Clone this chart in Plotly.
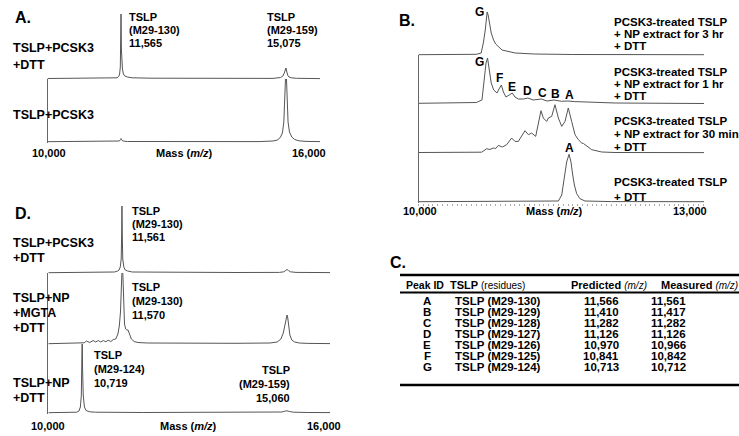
import plotly.graph_objects as go

W, H = 739, 436
FONT = "Liberation Sans, Arial, sans-serif"
LINE = "#555555"

# ---------------- data (intensities in arbitrary units) ----------------
# Panel A
a1_mass = [10000, 10500, 11000, 11400, 11480, 11515, 11535, 11550, 11557, 11565, 11573, 11580, 11595, 11615, 11645, 11700, 11800, 12200, 13000, 14000, 14800, 14960, 15010, 15040, 15060, 15075, 15090, 15110, 15140, 15190, 15300, 15500, 15800]
a1_int = [0.5, 0.5, 0.6, 0.8, 1.2, 2.5, 5, 12, 30, 65, 30, 20, 10, 5, 3, 2, 1.2, 0.8, 0.6, 0.5, 0.6, 1.5, 3, 6, 10, 11, 8, 4, 2, 1.2, 0.7, 0.5, 0.4]
a2_mass = [10000, 11000, 11450, 11530, 11555, 11565, 11575, 11600, 11700, 12500, 13500, 14500, 14800, 14900, 14960, 15000, 15030, 15050, 15065, 15075, 15085, 15100, 15120, 15150, 15200, 15260, 15350, 15500, 15800]
a2_int = [0.3, 0.3, 0.5, 1, 2.5, 3.5, 2.5, 1, 0.5, 0.3, 0.3, 0.4, 1, 2, 5, 9, 20, 40, 65, 75, 65, 40, 20, 10, 5, 2.5, 1.2, 0.6, 0.4]

# Panel B
b1_mass = [10000, 10500, 10600, 10650, 10672, 10692, 10705, 10712, 10722, 10733, 10754, 10778, 10800, 10866, 10950, 11003, 11200, 11600, 12960]
b1_int = [0.3, 0.3, 0.7, 2, 12, 25, 38, 43, 40, 33, 22, 15, 11, 5, 3, 2, 1, 0.5, 0.3]
b2_mass = [10000, 10400, 10600, 10658, 10682, 10700, 10716, 10733, 10754, 10780, 10814, 10835, 10859, 10880, 10907, 10940, 10972, 11000, 11034, 11090, 11133, 11190, 11235, 11273, 11332, 11370, 11405, 11483, 11550, 11620, 11760, 12040, 12960]
b2_int = [0.7, 0.8, 1.5, 4, 24, 41, 46, 34, 21, 14, 11, 15, 19, 12, 7, 9, 11, 7, 5, 5, 6, 4, 4.5, 5, 3, 3.5, 4, 2.7, 3, 2.4, 2, 1, 0.5]
b3_mass = [10000, 10400, 10600, 10655, 10707, 10740, 10776, 10800, 10828, 10869, 10914, 10966, 11000, 11035, 11104, 11139, 11173, 11215, 11270, 11294, 11329, 11346, 11381, 11415, 11450, 11485, 11519, 11553, 11588, 11623, 11657, 11692, 11710, 11726, 11796, 11900, 12037, 12960]
b3_int = [0.5, 0.5, 0.6, 0.8, 4.3, 3.5, 5, 4.5, 7.6, 6, 8.3, 15, 11.6, 11.6, 22.3, 18.3, 20, 16.6, 42.3, 35, 31.6, 35, 36.6, 48.3, 35, 26.6, 31.6, 45, 31.6, 18.3, 13.3, 10, 9.5, 8.3, 3.3, 1, 0.5, 0.4]
b4_mass = [10000, 11000, 11400, 11450, 11485, 11502, 11519, 11536, 11561, 11581, 11599, 11616, 11640, 11674, 11726, 12000, 12960]
b4_int = [0.3, 0.3, 0.4, 1, 7, 17, 30, 40, 47.7, 40, 27, 17, 8.3, 3.3, 1, 0.4, 0.3]

# Panel D
d1_mass = [10000, 11000, 11400, 11470, 11500, 11525, 11545, 11553, 11561, 11569, 11578, 11600, 11630, 11680, 11780, 12500, 14000, 14900, 14990, 15030, 15060, 15090, 15130, 15250, 15970]
d1_int = [0.3, 0.5, 1, 2, 3, 6, 14, 35, 67, 35, 14, 6, 3, 2, 1, 0.6, 0.5, 0.6, 1.2, 2.5, 3.5, 2.5, 1.2, 0.6, 0.4]
d2_mass = [10000, 10600, 10720, 10760, 10810, 10880, 10950, 11005, 11060, 11110, 11165, 11220, 11270, 11325, 11380, 11430, 11475, 11505, 11530, 11548, 11562, 11570, 11580, 11595, 11615, 11640, 11665, 11690, 11720, 11760, 11820, 11900, 12100, 13000, 14000, 14700, 14850, 14930, 14980, 15020, 15045, 15060, 15075, 15095, 15120, 15160, 15220, 15320, 15500, 15970]
d2_int = [0.3, 0.5, 0.8, 1.2, 3, 1.5, 3.5, 2, 3.5, 2, 3.5, 2.2, 3.8, 2.5, 4.5, 5, 10, 18, 32, 58, 80, 85, 70, 40, 20, 15, 14, 14, 9, 5, 2.5, 1.5, 1, 0.7, 0.7, 1, 2, 5, 11, 20, 27, 29, 26, 17, 9, 4, 2, 1, 0.6, 0.4]
d3_mass = [10000, 10400, 10600, 10650, 10680, 10700, 10712, 10719, 10726, 10740, 10765, 10800, 10880, 11000, 12000, 13500, 14800, 14950, 15010, 15060, 15110, 15200, 15500, 15970]
d3_int = [0.3, 0.4, 0.8, 2, 6, 18, 45, 80, 45, 18, 6, 2.5, 1.2, 0.8, 0.5, 0.4, 0.5, 1, 1.8, 2.2, 1.5, 0.8, 0.5, 0.4]

# Table C
peak_ids = ["A", "B", "C", "D", "E", "F", "G"]
residues = ["TSLP (M29-130)", "TSLP (M29-129)", "TSLP (M29-128)", "TSLP (M29-127)",
            "TSLP (M29-126)", "TSLP (M29-125)", "TSLP (M29-124)"]
predicted = [11566, 11410, 11282, 11126, 10970, 10841, 10713]
measured = [11561, 11417, 11282, 11126, 10966, 10842, 10712]

# ---------------- layout helpers ----------------
fig = go.Figure()
layout = dict(width=W, height=H, margin=dict(l=0, r=0, t=0, b=0),
              paper_bgcolor="white", plot_bgcolor="rgba(0,0,0,0)",
              showlegend=False, font=dict(family=FONT, color="black"))
annotations = []
shapes = []


def px(x):
    return x / W


def py(y):
    return 1 - y / H


def add_spec(i, mass, inten, xdom, base, top, xrange, yline, bticks=False):
    """Subplot i: x domain in px, baseline/top in px (1 unit = 1 px)."""
    hgt = base - top
    xa = "xaxis" if i == 1 else f"xaxis{i}"
    ya = "yaxis" if i == 1 else f"yaxis{i}"
    xr = "x" if i == 1 else f"x{i}"
    yr = "y" if i == 1 else f"y{i}"
    layout[xa] = dict(domain=[px(xdom[0]), px(xdom[1])], range=xrange, anchor=yr,
                      showgrid=False, zeroline=False, showline=False,
                      showticklabels=False,
                      ticks="outside" if bticks else "", ticklen=2, tickcolor="#aaaaaa",
                      dtick=50, tick0=10000)
    layout[ya] = dict(domain=[py(base + 1), py(top)], range=[-1, hgt], anchor=xr,
                      showgrid=False, zeroline=False, showticklabels=False, ticks="",
                      showline=yline, linecolor="#666666", linewidth=1)
    fig.add_trace(go.Scatter(x=mass, y=inten, mode="lines", xaxis=xr, yaxis=yr,
                             line=dict(color=LINE, width=1), hoverinfo="skip"))


def txt(s, x, y, size=11, anchor="left", bold=True, xref="paper", yref="paper"):
    annotations.append(dict(text=(f"<b>{s}</b>" if bold else s),
                            x=(px(x) if xref == "paper" else x), y=py(y),
                            xref=xref, yref=yref, xanchor=anchor, yanchor="middle",
                            showarrow=False, font=dict(family=FONT, size=size, color="black")))


def lines(items, x, y0, dy, size=11, anchor="left"):
    for k, s in enumerate(items):
        txt(s, x, y0 + k * dy, size=size, anchor=anchor)


# ---------------- Panel A ----------------
A_X = [47.5, 320]
A_R = [10000, 15800]
add_spec(1, a1_mass, a1_int, A_X, 79, 14, A_R, False)
add_spec(2, a2_mass, a2_int, A_X, 142, 79, A_R, True)
txt("A.", 13, 18, size=16)
lines(["TSLP+PCSK3", "+DTT"], 11, 48, 17, size=12.5)
txt("TSLP+PCSK3", 11, 115, size=12.5)
lines(["TSLP", "(M29-130)", "11,565"], 127, 17, 13)
lines(["TSLP", "(M29-159)", "15,075"], 265, 17, 13)
txt("10,000", 49, 153, size=11, anchor="center")
txt("Mass (<i>m/z</i>)", 184, 153, size=11, anchor="center")
txt("16,000", 309, 153, size=11, anchor="center")

# ---------------- Panel B ----------------
B_X = [418.5, 704]
B_R = [10000, 12960]
add_spec(3, b1_mass, b1_int, B_X, 55, 12, B_R, False)
add_spec(4, b2_mass, b2_int, B_X, 104, 55, B_R, True)
add_spec(5, b3_mass, b3_int, B_X, 153, 104, B_R, True)
add_spec(6, b4_mass, b4_int, B_X, 202, 153, B_R, True, bticks=True)
txt("B.", 397, 21, size=16)
lines(["PCSK3-treated TSLP", "+ NP extract for 3 hr", "+ DTT"], 612, 22, 12, size=11.5)
lines(["PCSK3-treated TSLP", "+ NP extract for 1 hr", "+ DTT"], 612, 72, 12, size=11.5)
lines(["PCSK3-treated TSLP", "+ NP extract for 30 min", "+ DTT"], 612, 121, 13, size=11.5)
lines(["PCSK3-treated TSLP", "+ DTT"], 612, 182, 15, size=11.5)
# peak letters tied to measured masses
g_mass = measured[peak_ids.index("G")]
annotations.append(dict(text="<b>G</b>", x=g_mass, y=py(12), xref="x3", yref="paper",
                        xanchor="right", yanchor="middle", xshift=-1, showarrow=False,
                        font=dict(family=FONT, size=12, color="black")))
annotations.append(dict(text="<b>G</b>", x=g_mass, y=py(62), xref="x4", yref="paper",
                        xanchor="right", yanchor="middle", xshift=-1, showarrow=False,
                        font=dict(family=FONT, size=12, color="black")))
letter_y = {"F": 78, "E": 87, "D": 91, "C": 93, "B": 94, "A": 95}
for pid, m in zip(peak_ids, measured):
    if pid in letter_y:
        annotations.append(dict(text=f"<b>{pid}</b>", x=m, y=py(letter_y[pid]), xref="x4",
                                yref="paper", xanchor="center", yanchor="middle",
                                showarrow=False, font=dict(family=FONT, size=12, color="black")))
annotations.append(dict(text="<b>A</b>", x=measured[0], y=py(148), xref="x6", yref="paper",
                        xanchor="center", yanchor="middle", showarrow=False,
                        font=dict(family=FONT, size=12, color="black")))
txt("10,000", 420, 211, size=11, anchor="center")
txt("Mass (<i>m/z</i>)", 554, 211, size=11, anchor="center")
txt("13,000", 690, 211, size=11, anchor="center")

# ---------------- Panel D ----------------
D_X = [48.3, 330]
D_R = [10000, 15970]
add_spec(7, d1_mass, d1_int, D_X, 273, 206, D_R, False)
add_spec(8, d2_mass, d2_int, D_X, 344, 273, D_R, True)
add_spec(9, d3_mass, d3_int, D_X, 413, 344, D_R, True)
txt("D.", 13, 213, size=16)
lines(["TSLP+PCSK3", "+DTT"], 11, 243, 15, size=12.5)
lines(["TSLP+NP", "+MGTA", "+DTT"], 11, 298, 15, size=12.5)
lines(["TSLP+NP", "+DTT"], 11, 383, 15, size=12.5)
lines(["TSLP", "(M29-130)", "11,561"], 130, 211, 13)
lines(["TSLP", "(M29-130)", "11,570"], 130, 287, 14)
lines(["TSLP", "(M29-124)", "10,719"], 92, 355, 14)
lines(["TSLP", "(M29-159)", "15,060"], 292, 370, 14, anchor="right")
txt("10,000", 48, 426, size=11, anchor="center")
txt("Mass (<i>m/z</i>)", 188, 426, size=11, anchor="center")
txt("16,000", 324, 426, size=11, anchor="center")

# ---------------- Panel C (table) ----------------
txt("C.", 388, 262, size=16)
shapes.append(dict(type="line", xref="paper", yref="paper", x0=px(400), x1=px(739),
                   y0=py(275), y1=py(275), line=dict(color="black", width=2.5)))
shapes.append(dict(type="line", xref="paper", yref="paper", x0=px(400), x1=px(739),
                   y0=py(292.5), y1=py(292.5), line=dict(color="black", width=2)))
shapes.append(dict(type="line", xref="paper", yref="paper", x0=px(400), x1=px(739),
                   y0=py(385), y1=py(385), line=dict(color="black", width=2.5)))
SMALL = "<span style='font-weight:normal;font-size:10px'>{}</span>"
txt("Peak ID", 425, 284.5, size=10.5, anchor="center")
txt("TSLP " + SMALL.format("(residues)"), 448, 284.5, size=11)
txt("Predicted <i>" + SMALL.format("(m/z)") + "</i>", 569, 284.5, size=11)
txt("Measured <i>" + SMALL.format("(m/z)") + "</i>", 659, 284.5, size=11)
for k, (pid, res, pr, me) in enumerate(zip(peak_ids, residues, predicted, measured)):
    y = 301 + k * 11
    txt(pid, 427, y, size=11.5, anchor="center")
    txt(res, 453, y, size=11.5)
    txt(f"{pr:,}", 601, y, size=11.5, anchor="center")
    txt(f"{me:,}", 668, y, size=11.5, anchor="center")

layout["annotations"] = annotations
layout["shapes"] = shapes
fig.update_layout(**layout)
fig.write_html("out.html",
               config={"displayModeBar": False, "staticPlot": True},
               post_script="document.body.style.margin='0px';"
                           "document.body.style.overflow='hidden';")
